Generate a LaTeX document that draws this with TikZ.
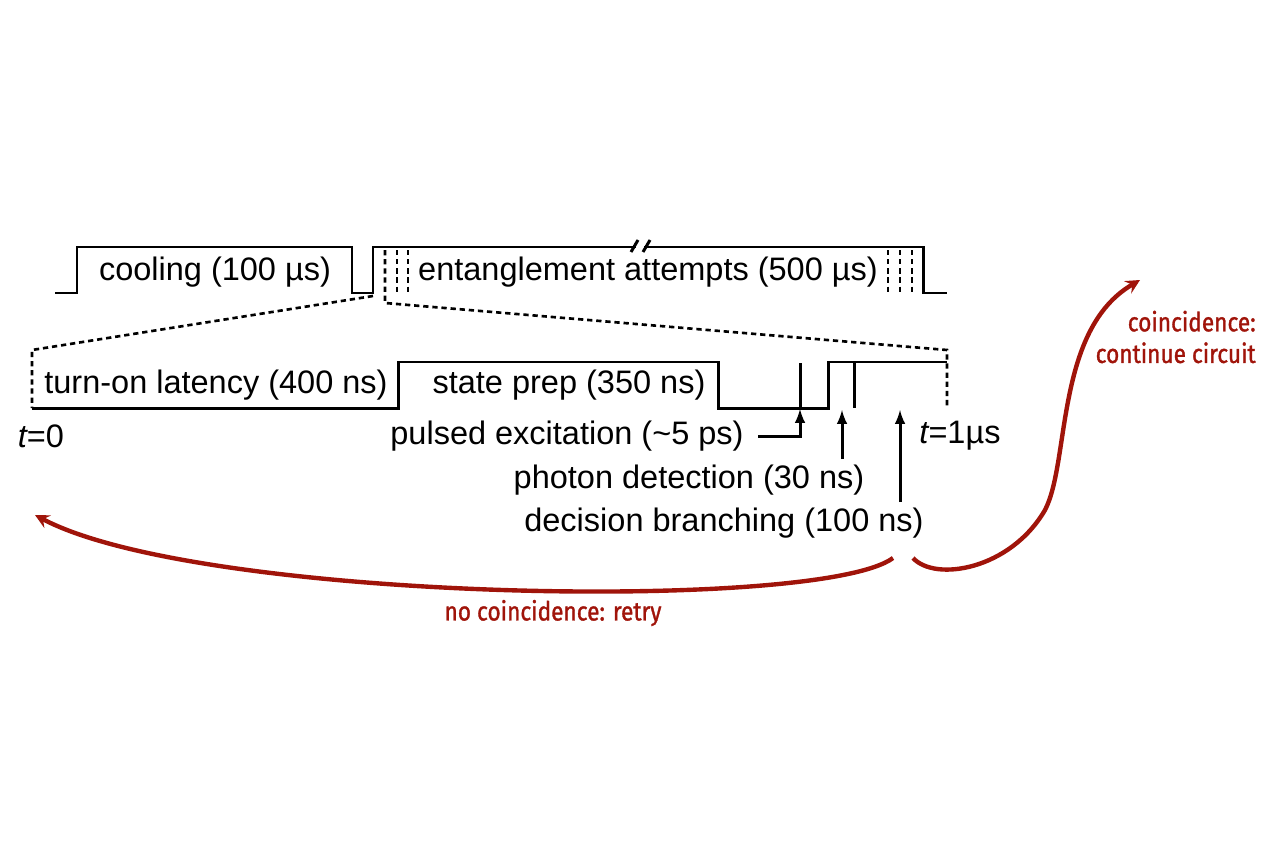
\documentclass[tikz,border=0pt]{standalone}
\usepackage{fontspec}
\setmainfont{Liberation Sans}
\newfontfamily\notefont[FakeStretch=0.86, FakeBold=1.2]{Fira Sans}
\usetikzlibrary{arrows}

\definecolor{branchred}{RGB}{160,20,10}

\tikzset{global style/.style={
    	x=0.02cm, y=-0.02cm,
    	every node/.append style={inner sep=0pt, font=\fontsize{18.5}{22}\selectfont}
  	},
  	wave/.style={black, line width=1.7pt},
  	zoomline/.style={black, line width=1.5pt, dash pattern=on 3pt off 2.2pt},
  	branch/.style={branchred, line width=2.5pt, -stealth},
  	note/.style={text=branchred, font=\notefont\fontsize{15}{18}\selectfont}
}

\begin{document}
\begin{tikzpicture}[global style]
		\useasboundingbox (0,0) rectangle (1280,852);
		% top sequence
		\draw [wave] (55,293) -- (77,293) -- (77,247) -- (352,247) -- (352,293) -- (373,293) -- (373,247) -- (636,247);
		\draw [wave] (644,247) -- (923,247) -- (923,293) -- (947,293);
		\draw [wave] (631,252) -- (638,240);
		\draw [wave] (643,252) -- (650,240);
		\foreach \x in {397, 408, 888, 900, 912}
			\draw [zoomline] (\x,250) -- (\x,293);
		\node (cooling) at (215,272) {cooling (100 µs)};
		\node (entangle) at (648,272) {entanglement attempts (500 µs)};
		% zoom into one attempt
		\draw [zoomline] (373,296) -- (32,350) -- (32,408);
		\draw [zoomline] (385,250) -- (385,303) -- (947,350) -- (947,408);
		\draw [wave] (32,408) -- (398,408) -- (398,362) -- (718,362) -- (718,408) -- (828,408) -- (828,362) -- (947,362);
		\draw [wave] (800,363) -- (800,408);
		\draw [wave] (854,362) -- (854,408);
		\coordinate (pex) at (800,409);
		\coordinate (pdet) at (842,410);
		\coordinate (dec) at (900,410);
		\node (latency) at (216,385) {turn-on latency (400 ns)};
		\node (prep) at (569,385) {state prep (350 ns)};
		\node (tzero) at (41,436) {{\itshape t}=0};
		\node (tone) at (960,436) {{\itshape t}=1µs};
		\node (pulsed) at (567,436) {pulsed excitation (\textasciitilde5 ps)};
		\node (photon) at (689,480) {photon detection (30 ns)};
		\node (decision) at (724,523) {decision branching (100 ns)};
		\draw [wave, -latex] ([xshift=8pt]pulsed.east) -| (pex);
		\draw [wave, -latex] ([yshift=3pt]photon.north -| pdet) -- (pdet);
		\draw [wave, -latex] ([yshift=3pt]decision.north -| dec) -- (dec);
		% outcomes
		\node [note] (retry) at (553,613) {no coincidence: retry};
		\node [note, align=right, anchor=east] (coinc) at (1256,337) {coincidence:\\continue circuit};
		\coordinate (back) at (35,515);
		\coordinate (onward) at (1140,280);
		\draw [branch] (893,558) .. controls (820,612) and (200,602) .. (back);
		\draw [branch] (913,558) .. controls (935,582) and (1010,570) .. (1045,510) .. controls (1070,462) and (1055,330) .. (onward);
	\end{tikzpicture}
\end{document}
